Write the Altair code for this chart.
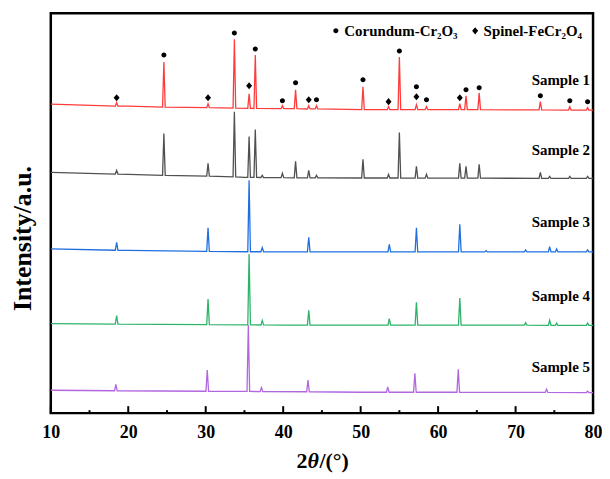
import altair as alt
import pandas as pd

samples = ["Sample 1", "Sample 2", "Sample 3", "Sample 4", "Sample 5"]
colors = ["#ff3b3b", "#505050", "#1f6fe0", "#2db36a", "#b266e0"]

# ---- Sample 1 (red) ----
s1_base_x = [10, 20, 30, 40, 50, 60, 70, 80]
s1_base_y = [310.5, 308.5, 307, 306, 305, 305, 304.8, 304.5]
s1_peak_x = [18.5, 24.6, 30.3, 33.7, 35.6, 36.4, 39.9, 41.6, 43.3, 44.3, 50.3,
             53.6, 55.0, 57.2, 58.5, 62.8, 63.6, 65.3, 73.2, 77.0, 79.3]
s1_peak_top = [312, 353, 311, 375.7, 321, 360, 309, 325, 309, 309, 328,
               308, 358, 310, 308, 311, 319, 322, 313, 308, 307]
s1_peak_foot = [308.5, 307.5, 307, 306.5, 306.3, 306.2, 306, 306, 305.7, 305.7, 305,
                305, 305, 305, 305, 305, 305, 305, 304.8, 304.6, 304.5]

# ---- Sample 2 (gray) ----
s2_base_x = [10, 20, 30, 35, 45, 60, 80]
s2_base_y = [242, 240, 238.5, 237, 236.5, 236.2, 236]
s2_peak_x = [18.5, 24.6, 30.3, 33.7, 35.6, 36.4, 37.3, 39.9, 41.6, 43.3, 44.3, 50.3,
             53.6, 55.0, 57.2, 58.5, 62.8, 63.6, 65.3, 73.2, 74.4, 77.0, 79.3]
s2_peak_top = [244, 281, 251, 303, 278, 285, 239, 241, 253, 244, 239, 255,
               240, 282, 248, 240, 251, 248, 250, 242, 238, 238, 238]
s2_peak_foot = [240.3, 239, 238.3, 237.5, 237, 237, 236.8, 236.6, 236.5, 236.5, 236.5, 236.3,
                236.3, 236.3, 236.2, 236.2, 236.2, 236.2, 236.1, 236, 236, 236, 236]

# ---- Sample 3 (blue) ----
s3_base_x = [10, 20, 30, 40, 80]
s3_base_y = [165, 163.5, 162.5, 162, 162]
s3_peak_x = [18.5, 30.3, 35.6, 37.3, 43.3, 53.7, 57.2, 62.8, 66.2, 71.3, 74.4, 75.3, 79.3]
s3_peak_top = [171.7, 186.3, 234, 166.3, 176.7, 169.7, 186.3, 189.7, 163.3, 164, 167.3, 165, 164]
s3_peak_foot = [163.7, 162.5, 162.2, 162.2, 162, 162, 162, 162, 162, 162, 162, 162, 162]

# ---- Sample 4 (green) ----
s4_base_x = [10, 30, 40, 80]
s4_base_y = [90, 89, 88.5, 88.3]
s4_peak_x = [18.5, 30.3, 35.6, 37.3, 43.3, 53.7, 57.2, 62.8, 71.3, 74.4, 75.3, 79.3]
s4_peak_top = [98, 114.7, 160, 93, 103.3, 95, 111.3, 115.7, 91, 93.3, 90.5, 90.5]
s4_peak_foot = [89.5, 89, 88.7, 88.6, 88.5, 88.5, 88.5, 88.4, 88.4, 88.3, 88.3, 88.3]

# ---- Sample 5 (purple) ----
s5_base_x = [10, 30, 50, 80]
s5_base_y = [23, 22, 21, 20.7]
s5_peak_x = [18.4, 30.2, 35.5, 37.2, 43.2, 53.5, 57.0, 62.6, 74.0, 79.3]
s5_peak_top = [29, 43.3, 88.3, 25.7, 33.3, 26.3, 40, 44, 24, 22]
s5_peak_foot = [22.5, 22, 21.8, 21.7, 21.5, 21, 21, 21, 20.8, 20.7]

# ---- phase markers above Sample 1 ----
phases = ["Corundum-Cr\u2082O\u2083", "Spinel-FeCr\u2082O\u2084"]
cor_x = [24.6, 33.7, 36.4, 39.9, 41.6, 44.3, 50.3, 55.0, 57.2, 58.5, 63.6, 65.3, 73.2, 77.0, 79.3]
cor_y = [360, 382, 366, 314, 332, 315, 335, 364, 328, 315, 325, 327, 319, 314, 313]
sp_x = [18.5, 30.3, 35.6, 43.3, 53.6, 57.2, 62.8]
sp_y = [317, 317, 329, 315, 313, 318, 317]

label_y = [335, 264, 192.3, 117.3, 46.3]

major_ticks = [10, 20, 30, 40, 50, 60, 70, 80]
minor_ticks = [15, 25, 35, 45, 55, 65, 75]

# x title pieces: "2", italic theta, "/(°)"
xtitle_parts = ["2", "\u03b8", "/(\u00b0)"]
xtitle_styles = ["normal", "italic", "normal"]

# ---- build tables ----
series = [
    (s1_base_x, s1_base_y, s1_peak_x, s1_peak_top, s1_peak_foot),
    (s2_base_x, s2_base_y, s2_peak_x, s2_peak_top, s2_peak_foot),
    (s3_base_x, s3_base_y, s3_peak_x, s3_peak_top, s3_peak_foot),
    (s4_base_x, s4_base_y, s4_peak_x, s4_peak_top, s4_peak_foot),
    (s5_base_x, s5_base_y, s5_peak_x, s5_peak_top, s5_peak_foot),
]
HW = 0.17
rows = []
for name, (bx, by, px, pt, pf) in zip(samples, series):
    pts = [(x, y) for x, y in zip(bx, by) if all(abs(x - p) > 0.4 for p in px)]
    for p, t, f in zip(px, pt, pf):
        pts += [(p - HW, f), (p, t), (p + HW, f)]
    pts.sort(key=lambda a: a[0])
    for i, (x, y) in enumerate(pts):
        rows.append({"two_theta": x, "intensity": y, "sample": name, "idx": i})
df_lines = pd.DataFrame(rows)

df_mk = pd.DataFrame(
    [{"two_theta": x, "intensity": y, "phase": phases[0]} for x, y in zip(cor_x, cor_y)]
    + [{"two_theta": x, "intensity": y, "phase": phases[1]} for x, y in zip(sp_x, sp_y)]
)
df_lab = pd.DataFrame({"sample": samples, "intensity": label_y})
df_major = pd.DataFrame({"two_theta": major_ticks})
df_minor = pd.DataFrame({"two_theta": minor_ticks})

FONT = "Liberation Serif"
xscale = alt.Scale(domain=[10, 80], nice=False, zero=False)
yscale = alt.Scale(domain=[0, 402], nice=False, zero=False)

xaxis = alt.Axis(values=major_ticks, ticks=False, domain=False, grid=False,
                 labelFont=FONT, labelFontWeight="bold", labelFontSize=18,
                 labelColor="black", labelPadding=10, labelFlush=False,
                 title="")
yaxis = alt.Axis(labels=False, ticks=False, domain=False, grid=False,
                 title="Intensity/a.u.", titleFont=FONT, titleFontWeight="bold",
                 titleFontSize=26, titleColor="black", titleAngle=270,
                 titleX=-28, titleY=226, titleAlign="center",
                 titleBaseline="middle")

X = alt.X("two_theta:Q", scale=xscale, axis=xaxis)
Y = alt.Y("intensity:Q", scale=yscale, axis=yaxis)

lines = alt.Chart(df_lines).mark_line(strokeWidth=1.3, clip=True).encode(
    x=X, y=Y,
    color=alt.Color("sample:N", scale=alt.Scale(domain=samples, range=colors), legend=None),
    order="idx:Q",
)

circle_path = "M-0.85,0A0.85,0.85 0 1,0 0.85,0A0.85,0.85 0 1,0 -0.85,0Z"
diamond_path = "M0,-1.2L1,0L0,1.2L-1,0Z"

markers = alt.Chart(df_mk).mark_point(filled=True, color="black", opacity=1,
                                      strokeWidth=0, size=36).encode(
    x=X, y=Y,
    shape=alt.Shape("phase:N", scale=alt.Scale(domain=phases, range=[circle_path, diamond_path]),
                    legend=alt.Legend(title=None, orient="none", legendX=279, legendY=10,
                                      direction="horizontal", labelFont=FONT,
                                      labelFontWeight="bold", labelFontSize=15,
                                      labelColor="black", symbolFillColor="black",
                                      symbolStrokeWidth=0, symbolSize=36, labelOffset=1,
                                      columnPadding=9, padding=0)),
)

labels = alt.Chart(df_lab).mark_text(align="right", baseline="middle", font=FONT,
                                     fontWeight="bold", fontSize=15, color="black").encode(
    x=alt.value(542),
    y=Y,
    text="sample:N",
)

tmaj = alt.Chart(df_major).mark_rule(color="black", strokeWidth=2).encode(
    x=X, y=alt.value(402), y2=alt.value(395))
tmin = alt.Chart(df_minor).mark_rule(color="black", strokeWidth=2).encode(
    x=X, y=alt.value(402), y2=alt.value(399))

# x-axis title built from three text pieces (theta in italic)
title_layers = []
for txt, style, xpos in zip(xtitle_parts, xtitle_styles, [247, 258, 270]):
    title_layers.append(
        alt.Chart(df_major.head(1)).mark_text(
            text=txt, align="left", baseline="alphabetic", font=FONT,
            fontWeight="bold", fontStyle=style, fontSize=22, color="black"
        ).encode(x=alt.value(xpos), y=alt.value(457))
    )

chart = alt.layer(lines, tmaj, tmin, markers, labels, *title_layers).properties(
    width=545, height=402,
    background="white",
    autosize=alt.AutoSizeParams(type="none"),
    padding={"left": 43, "top": 4, "right": 9, "bottom": 60},
).configure_view(stroke="black", strokeWidth=2.5)

chart.save("out.html", embed_options={"renderer": "svg", "actions": False})
